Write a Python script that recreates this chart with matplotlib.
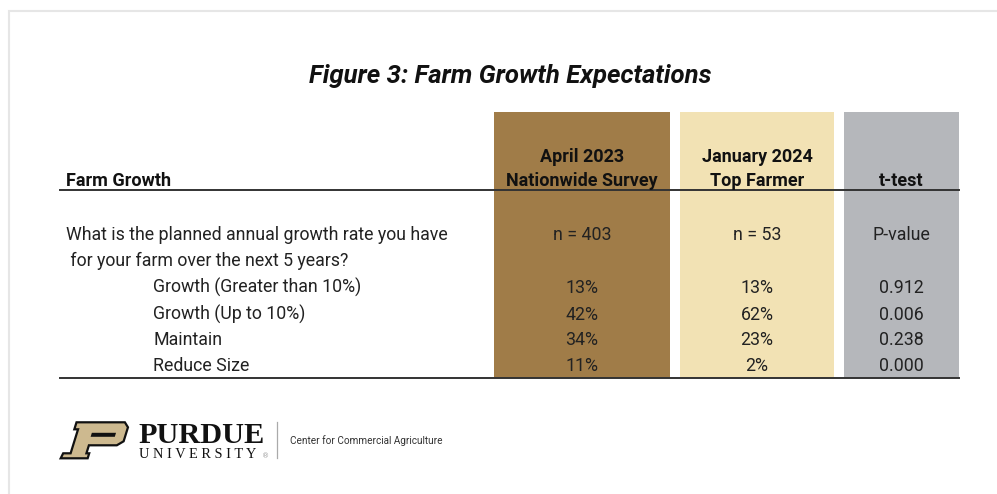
import matplotlib.pyplot as plt
from matplotlib.patches import Rectangle, Polygon

# ── Data ──────────────────────────────────────────────────────────────────────
TITLE        = "Figure 3: Farm Growth Expectations"
ROW_HEADER   = "Farm Growth"
COLUMNS      = ["April 2023\nNationwide Survey", "January 2024\nTop Farmer", "t-test"]
N_LABELS     = ["n = 403", "n = 53", "P-value"]
QUESTION     = ["What is the planned annual growth rate you have",
                " for your farm over the next 5 years?"]
CATEGORIES   = ["Growth (Greater than 10%)", "Growth (Up to 10%)", "Maintain", "Reduce Size"]
NATIONWIDE   = [13, 42, 34, 11]
TOP_FARMER   = [13, 62, 23, 2]
P_VALUES     = [0.912, 0.006, 0.238, 0.000]

# ── Style ─────────────────────────────────────────────────────────────────────
COL_COLOURS = ["#a07c48", "#f2e2b4", "#b5b7bb"]
COL_X       = [(494, 670), (680, 834), (844, 959)]
TEXT        = "#222222"
FONT        = "Roboto"

fig = plt.figure(figsize=(9.97, 4.94), dpi=100)
ax = fig.add_axes([0, 0, 1, 1])
ax.set_xlim(0, 997)
ax.set_ylim(494, 0)
ax.axis("off")

# card frame
ax.add_patch(Rectangle((9, 11), 1100, 600, facecolor="white",
                       edgecolor="#e6e6e6", linewidth=1.5))

ax.text(510, 83, TITLE, ha="center", va="baseline", fontsize=18.5,
        fontweight="bold", fontstyle="italic", family=FONT, color="#111111")

# column backgrounds
for (x0, x1), c in zip(COL_X, COL_COLOURS):
    ax.add_patch(Rectangle((x0, 112), x1 - x0, 266, facecolor=c, edgecolor="none"))

# header
ax.text(66, 186, ROW_HEADER, ha="left", va="baseline", fontsize=13,
        fontweight="bold", family=FONT, color="#111111")
for (x0, x1), lab in zip(COL_X, COLUMNS):
    ax.text((x0 + x1) / 2, 186, lab, ha="center", va="baseline", fontsize=13,
            fontweight="bold", family=FONT, color="#111111", linespacing=1.45)

ax.plot([60, 959], [190.5, 190.5], color="#333333", linewidth=1.4)
ax.plot([60, 959], [377.5, 377.5], color="#333333", linewidth=1.4)

# question + n row
ax.text(66, 239.5, QUESTION[0], ha="left", va="baseline", fontsize=12.8,
        family=FONT, color=TEXT)
ax.text(66, 266, QUESTION[1], ha="left", va="baseline", fontsize=12.8,
        family=FONT, color=TEXT)
for (x0, x1), lab in zip(COL_X, N_LABELS):
    ax.text((x0 + x1) / 2, 240, lab, ha="center", va="baseline", fontsize=12.8,
            family=FONT, color=TEXT)

# category rows
row_y = [293, 319.5, 345, 371]
for i, cat in enumerate(CATEGORIES):
    y = row_y[i]
    ax.text(153, y, cat, ha="left", va="baseline", fontsize=12.8,
            family=FONT, color=TEXT)
    vals = [f"{NATIONWIDE[i]}%", f"{TOP_FARMER[i]}%", f"{P_VALUES[i]:.3f}"]
    for (x0, x1), v in zip(COL_X, vals):
        ax.text((x0 + x1) / 2, y, v, ha="center", va="baseline", fontsize=12.8,
                family=FONT, color=TEXT)

# ── Purdue logo ───────────────────────────────────────────────────────────────
def skew(pts, ox=60.7, oy=458.3, sx=0.93, slant=0.31):
    return [(ox + u * sx + slant * v, oy - v) for u, v in pts]

p_outer = [(0, 0), (29, 0), (29, 5), (26, 5), (26, 13), (56, 13), (62, 17),
           (62, 31), (57, 36), (5, 36), (5, 29), (9, 29), (9, 5), (1, 5)]
p_slot = [(25, 21.5), (51, 21.5), (51, 25.5), (25, 25.5)]
ax.add_patch(Polygon(skew(p_outer), closed=True, facecolor="#cdb98f",
                     edgecolor="#111111", linewidth=1.6, joinstyle="miter"))
ax.add_patch(Polygon(skew(p_slot), closed=True, facecolor="#111111",
                     edgecolor="none"))

ax.text(138, 443, "PURDUE", ha="left", va="baseline", fontsize=21.8,
        fontweight="bold", family="Liberation Serif", color="#111111")
ax.text(139, 458, "U N I V E R S I T Y", ha="left", va="baseline", fontsize=10.4,
        family="Liberation Serif", color="#111111")
ax.text(262, 458, "®", ha="left", va="baseline", fontsize=5,
        family="DejaVu Sans", color="#999999")
ax.plot([277, 277], [422, 458], color="#aaaaaa", linewidth=0.9)
ax.text(290, 443.5, "Center for Commercial Agriculture", ha="left", va="baseline",
        fontsize=7.2, family=FONT, color="#333333")

fig.savefig("out.png", dpi=100)
